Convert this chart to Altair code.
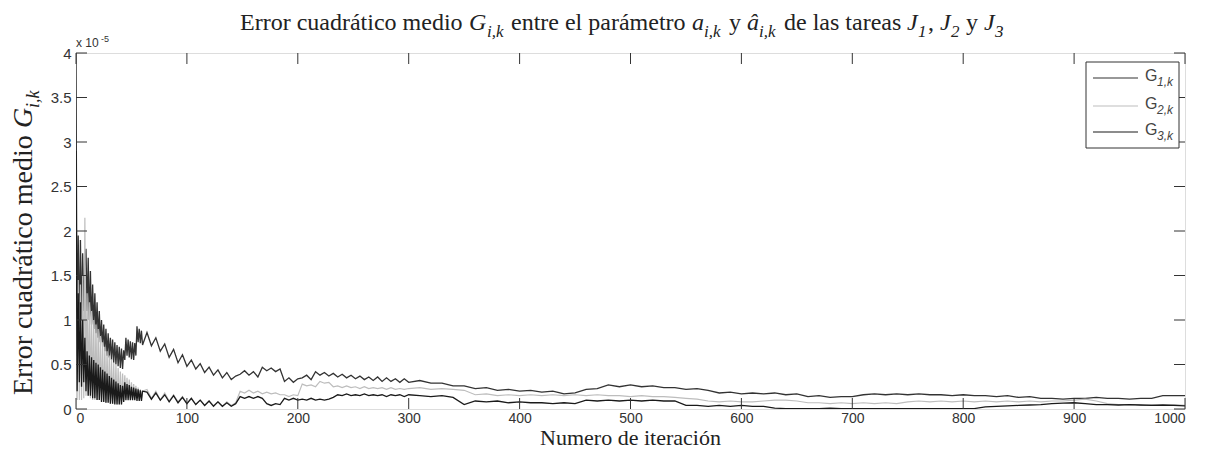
import altair as alt
import pandas as pd

# ---------------- data (values in units of 1e-5) ----------------
ITER_A = list(range(0, 61))
ITER_B = list(range(64, 301, 4))
ITER_C = list(range(310, 1001, 10))
ITERS = ITER_A + ITER_B + ITER_C

G1_A = [4.0, 0.6, 1.95, 0.9, 1.9, 1.0, 1.75, 1.1, 1.6, 1.8, 1.1, 1.7, 1.0, 1.55, 0.95, 1.4, 0.9, 1.3, 0.85, 1.2,
        0.8, 1.1, 0.75, 1.0, 0.7, 0.95, 0.65, 0.9, 0.6, 0.85, 0.58, 0.8, 0.55, 0.78, 0.52, 0.75, 0.5, 0.72, 0.48, 0.7,
        0.46, 0.68, 0.45, 0.66, 0.55, 0.8, 0.6, 0.78, 0.58, 0.76, 0.56, 0.75, 0.55, 0.74, 0.6, 0.93, 0.75, 0.9, 0.74, 0.88,
        0.72]
G1_B = [0.86, 0.71, 0.80, 0.65, 0.73, 0.58, 0.67, 0.52, 0.61, 0.48,
        0.55, 0.45, 0.51, 0.41, 0.47, 0.38, 0.44, 0.35, 0.41, 0.33,
        0.37, 0.39, 0.43, 0.38, 0.42, 0.36, 0.47, 0.43, 0.46, 0.42,
        0.45, 0.31, 0.35, 0.30, 0.34, 0.35, 0.38, 0.33, 0.42, 0.38,
        0.41, 0.37, 0.40, 0.36, 0.39, 0.35, 0.38, 0.34, 0.37, 0.33,
        0.36, 0.32, 0.36, 0.31, 0.35, 0.31, 0.34, 0.30, 0.34, 0.30]
G1_C = [0.32, 0.29, 0.29, 0.26, 0.26, 0.23, 0.24, 0.21, 0.22, 0.20,
        0.21, 0.19, 0.20, 0.17, 0.18, 0.22, 0.23, 0.27, 0.25, 0.27,
        0.25, 0.26, 0.24, 0.24, 0.22, 0.23, 0.21, 0.18, 0.19, 0.17,
        0.18, 0.17, 0.18, 0.16, 0.17, 0.14, 0.15, 0.13, 0.14, 0.14,
        0.16, 0.17, 0.16, 0.17, 0.16, 0.17, 0.16, 0.16, 0.15, 0.16,
        0.15, 0.15, 0.14, 0.15, 0.13, 0.14, 0.12, 0.12, 0.11, 0.12,
        0.12, 0.13, 0.12, 0.12, 0.11, 0.12, 0.12, 0.15, 0.15, 0.15]

G2_A = [1.5, 0.1, 1.45, 0.1, 1.4, 0.1, 1.5, 0.12, 2.15, 0.15, 1.3, 0.15, 1.2, 0.12, 1.1, 0.1, 1.0, 0.1, 0.95, 0.1,
        0.9, 0.1, 0.82, 0.08, 0.75, 0.08, 0.7, 0.07, 0.65, 0.07, 0.6, 0.06, 0.56, 0.06, 0.52, 0.06, 0.5, 0.05, 0.46, 0.05,
        0.42, 0.05, 0.4, 0.1, 0.38, 0.12, 0.35, 0.12, 0.33, 0.12, 0.3, 0.12, 0.28, 0.12, 0.26, 0.12, 0.24, 0.12, 0.22, 0.12,
        0.2]
G2_B = [0.22, 0.12, 0.20, 0.10, 0.18, 0.09, 0.16, 0.08, 0.14, 0.06,
        0.12, 0.05, 0.10, 0.04, 0.09, 0.04, 0.08, 0.03, 0.08, 0.04,
        0.07, 0.20, 0.18, 0.21, 0.18, 0.20, 0.17, 0.19, 0.17, 0.18,
        0.16, 0.16, 0.14, 0.16, 0.15, 0.28, 0.26, 0.27, 0.25, 0.31,
        0.29, 0.30, 0.25, 0.26, 0.24, 0.26, 0.24, 0.25, 0.23, 0.25,
        0.23, 0.24, 0.23, 0.24, 0.22, 0.24, 0.22, 0.23, 0.22, 0.23]
G2_C = [0.24, 0.22, 0.23, 0.22, 0.21, 0.16, 0.17, 0.15, 0.16, 0.15,
        0.16, 0.15, 0.16, 0.15, 0.16, 0.15, 0.16, 0.15, 0.15, 0.14,
        0.15, 0.14, 0.14, 0.13, 0.12, 0.11, 0.09, 0.08, 0.09, 0.08,
        0.08, 0.09, 0.10, 0.10, 0.09, 0.07, 0.07, 0.06, 0.07, 0.06,
        0.07, 0.06, 0.07, 0.06, 0.08, 0.09, 0.08, 0.09, 0.08, 0.09,
        0.08, 0.09, 0.08, 0.09, 0.08, 0.09, 0.08, 0.09, 0.09, 0.10,
        0.11, 0.09, 0.06, 0.05, 0.05, 0.04, 0.05, 0.04, 0.05, 0.04]

G3_A = [2.9, 0.2, 1.3, 0.3, 1.2, 0.25, 1.0, 0.3, 0.8, 0.2, 0.65, 0.15, 0.6, 0.15, 0.58, 0.12, 0.55, 0.12, 0.52, 0.1,
        0.5, 0.1, 0.47, 0.08, 0.44, 0.08, 0.42, 0.07, 0.4, 0.07, 0.37, 0.06, 0.35, 0.06, 0.33, 0.05, 0.31, 0.05, 0.29, 0.05,
        0.27, 0.05, 0.26, 0.08, 0.3, 0.1, 0.28, 0.1, 0.27, 0.1, 0.25, 0.1, 0.24, 0.1, 0.23, 0.09, 0.22, 0.09, 0.21, 0.09,
        0.2]
G3_B = [0.19, 0.11, 0.18, 0.10, 0.16, 0.08, 0.15, 0.07, 0.13, 0.06,
        0.12, 0.05, 0.10, 0.04, 0.09, 0.03, 0.08, 0.03, 0.07, 0.03,
        0.06, 0.14, 0.12, 0.14, 0.12, 0.14, 0.12, 0.06, 0.04, 0.06,
        0.05, 0.12, 0.10, 0.12, 0.10, 0.11, 0.10, 0.12, 0.10, 0.11,
        0.10, 0.11, 0.13, 0.16, 0.15, 0.17, 0.15, 0.16, 0.15, 0.17,
        0.15, 0.16, 0.15, 0.16, 0.14, 0.16, 0.15, 0.16, 0.14, 0.16]
G3_C = [0.15, 0.14, 0.15, 0.13, 0.05, 0.09, 0.08, 0.09, 0.07, 0.08,
        0.07, 0.07, 0.06, 0.07, 0.06, 0.10, 0.09, 0.10, 0.09, 0.10,
        0.09, 0.10, 0.09, 0.09, 0.04, 0.04, 0.03, 0.04, 0.03, 0.04,
        0.03, 0.03, 0.01, 0.005, 0.005, 0.005, 0.005, 0.01, 0.005, 0.005,
        0.005, 0.005, 0.005, 0.005, 0.005, 0.005, 0.005, 0.005, 0.005, 0.005,
        0.005, 0.025, 0.03, 0.035, 0.04, 0.045, 0.05, 0.06, 0.065, 0.07,
        0.06, 0.05, 0.05, 0.045, 0.05, 0.045, 0.04, 0.045, 0.04, 0.035]

SERIES = ["G1", "G2", "G3"]
COLORS = ["#333333", "#bdbdbd", "#1a1a1a"]
WIDTHS = [1.3, 1.2, 1.3]
X_TICKS = [0, 100, 200, 300, 400, 500, 600, 700, 800, 900, 1000]
Y_TICKS = [0, 0.5, 1, 1.5, 2, 2.5, 3, 3.5, 4]

rows = []
for name, vals in zip(SERIES, [G1_A + G1_B + G1_C, G2_A + G2_B + G2_C, G3_A + G3_B + G3_C]):
    for it, v in zip(ITERS, vals):
        rows.append({"iter": it, "value": v, "series": name})
df = pd.DataFrame(rows)

W, H = 1109, 356
XS = alt.Scale(domain=[0, 1000], nice=False, zero=False)
YS = alt.Scale(domain=[0, 4], nice=False)
XAX = alt.Axis(values=X_TICKS, format="d", ticks=False, domain=False, grid=False,
               labelFont="Liberation Sans", labelFontSize=14, labelColor="#333", labelPadding=2,
               title=None)
YAX = alt.Axis(values=Y_TICKS, format="~g", ticks=False, domain=False, grid=False,
               labelFont="Liberation Sans", labelFontSize=15, labelColor="#333", labelPadding=5, title=None)
DUMMY = pd.DataFrame({"d": [0]})

lines = []
for name, col, sw in zip(SERIES, COLORS, WIDTHS):
    lines.append(alt.Chart(df).transform_filter(alt.datum.series == name).mark_line(
        strokeWidth=sw, color=col, clip=True).encode(
        x=alt.X("iter:Q", scale=XS, axis=XAX),
        y=alt.Y("value:Q", scale=YS, axis=YAX),
    ))

xt = pd.DataFrame({"iter": X_TICKS})
yt = pd.DataFrame({"value": Y_TICKS})
TK = 11
tick_b = alt.Chart(xt).mark_rule(color="#333", strokeWidth=1).encode(
    x=alt.X("iter:Q", scale=XS, axis=XAX), y=alt.value(H), y2=alt.value(H - TK))
tick_t = alt.Chart(xt).mark_rule(color="#333", strokeWidth=1).encode(
    x=alt.X("iter:Q", scale=XS, axis=XAX), y=alt.value(0), y2=alt.value(TK))
tick_l = alt.Chart(yt).mark_rule(color="#333", strokeWidth=1).encode(
    y=alt.Y("value:Q", scale=YS, axis=YAX), x=alt.value(0), x2=alt.value(TK))
tick_r = alt.Chart(yt).mark_rule(color="#333", strokeWidth=1).encode(
    y=alt.Y("value:Q", scale=YS, axis=YAX), x=alt.value(W), x2=alt.value(W - TK))


def seg(txt, x, y, size, style="normal", font="Liberation Serif", angle=0, color="#222", align="left"):
    return alt.Chart(DUMMY).mark_text(
        text=txt, font=font, fontSize=size, fontStyle=style, angle=angle, color=color,
        align=align, baseline="alphabetic").encode(x=alt.value(x), y=alt.value(y))


texts = []
# title (page x minus 76)
TY = -23
SY = -16
texts += [
    seg("Error cuadrático medio", 164, TY, 24),
    seg("G", 393, TY, 24, "italic"),
    seg("i,k", 411, SY, 17, "italic"),
    seg("entre el parámetro", 435, TY, 24),
    seg("a", 616, TY, 24, "italic"),
    seg("i,k", 628, SY, 17, "italic"),
    seg("y", 653, TY, 24),
    seg("â", 671, TY, 24, "italic"),
    seg("i,k", 683, SY, 17, "italic"),
    seg("de las tareas", 708, TY, 24),
    seg("J", 831, TY, 24, "italic"),
    seg("1", 842, SY, 17, "italic"),
    seg(",", 852, TY, 24),
    seg("J", 864, TY, 24, "italic"),
    seg("2", 875, SY, 17, "italic"),
    seg("y", 890, TY, 24),
    seg("J", 908, TY, 24, "italic"),
    seg("3", 919, SY, 17, "italic"),
]
# x-axis title
texts.append(seg("Numero de iteración", W / 2, H + 36, 22, align="center"))
# y-axis title (rotated)
YX = -44
texts += [
    seg("Error cuadrático medio", YX, 342, 28, angle=270),
    seg("G", YX, 75, 28, "italic", angle=270),
    seg("i,k", YX + 7, 55, 18, "italic", angle=270),
]
# exponent
texts += [
    seg("x 10", 0, -6, 12, font="Liberation Sans", color="#333"),
    seg("-5", 25, -11, 9, font="Liberation Sans", color="#333"),
]

# legend
leg_box = alt.Chart(DUMMY).mark_rect(fill="white", stroke="#333", strokeWidth=1).encode(
    x=alt.value(1010), x2=alt.value(1103), y=alt.value(9), y2=alt.value(95))
legend = [leg_box]
for i, (name, col) in enumerate(zip(SERIES, COLORS)):
    ly = [25, 53, 79][i]
    legend.append(alt.Chart(DUMMY).mark_rule(color=col, strokeWidth=1.2).encode(
        x=alt.value(1017), x2=alt.value(1062), y=alt.value(ly)))
    legend.append(seg("G", 1069, ly + 3, 16, font="Liberation Sans", color="#444"))
    legend.append(seg(f"{i + 1},k", 1081, ly + 8, 12, "italic", font="Liberation Sans", color="#444"))

chart = alt.layer(*lines, tick_b, tick_t, tick_l, tick_r, *legend, *texts).properties(
    width=W, height=H,
    autosize=alt.AutoSizeParams(type="none"),
    padding={"left": 68, "top": 45, "right": 12, "bottom": 41},
).configure_view(stroke="#333", strokeWidth=1).configure(background="white")

chart.save("out.html", embed_options={"renderer": "svg", "actions": False})
